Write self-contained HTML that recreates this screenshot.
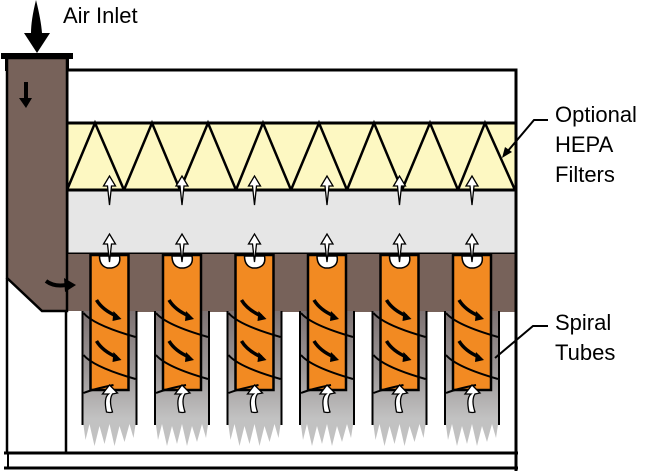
<!DOCTYPE html>
<html><head><meta charset="utf-8"><style>
html,body{margin:0;padding:0;background:#fff;width:650px;height:471px;overflow:hidden}
text{font-family:"Liberation Sans",sans-serif;font-size:22px;fill:#000}
</style></head><body>
<svg width="650" height="471" viewBox="0 0 650 471" xmlns="http://www.w3.org/2000/svg">
<defs>
<linearGradient id="g" x1="0" y1="0" x2="0" y2="1">
<stop offset="0" stop-color="#7d7272"/><stop offset="0.55" stop-color="#9c9797"/><stop offset="1" stop-color="#c2c2c2"/>
</linearGradient>
<g id="unit">
<!-- channel -->
<rect x="-27" y="311" width="54" height="108" fill="url(#g)"/>
<path d="M-27 418 L-24 440 L-20 424 L-15 446 L-10 426 L-5 444 L0 424 L5 446 L10 426 L15 442 L20 424 L24 438 L27 418 Z" fill="#c2c2c2"/>
<line x1="-27" y1="311" x2="-27" y2="425" stroke="#000" stroke-width="2"/>
<line x1="27" y1="311" x2="27" y2="425" stroke="#000" stroke-width="2"/>
<!-- tube -->
<rect x="-19" y="255" width="38" height="135" fill="#f28a22" stroke="#000" stroke-width="2.5"/>
<path d="M-10 256 q0 10 8 12 l4 0 q10 -2 8 -12z" fill="#fff" stroke="#000" stroke-width="1.5"/>
<!-- spirals -->
<path d="M-26 313 q10 12 52 24" fill="none" stroke="#000" stroke-width="2"/>
<path d="M-26 355 q10 12 52 24" fill="none" stroke="#000" stroke-width="2"/>
<path d="M-26 393 q10 -4 30 -8" fill="none" stroke="#000" stroke-width="2"/>
<!-- inner arrows -->
<path d="M-13 300 q6 10 20 16" fill="none" stroke="#000" stroke-width="3.5"/>
<path d="M4 311 l8 8 l-9 2z" fill="#000"/>
<path d="M-13 341 q6 10 20 16" fill="none" stroke="#000" stroke-width="3.5"/>
<path d="M4 352 l8 8 l-9 2z" fill="#000"/>
<!-- bottom curly arrow -->
<path d="M-3 412 q-3 -14 2 -18 l-6 0 l7 -9 l8 8 l-5 1 q-4 6 0 18 q-2 1 -6 0z" fill="#fff" stroke="#000" stroke-width="1.3"/>
<!-- plenum arrows -->
<path d="M0 262 l-2 -18 h-4 l6 -10 l6 10 h-4z" fill="#fff" stroke="#000" stroke-width="1.3"/>
<path d="M0 205 l-2 -19 h-4 l6 -10 l6 10 h-4z" fill="#fff" stroke="#000" stroke-width="1.3"/>
</g>
</defs>
<!-- top box -->
<rect x="67" y="70" width="449" height="53" fill="#fff" stroke="#000" stroke-width="3"/>
<!-- hepa -->
<rect x="67" y="123" width="449" height="67" fill="#fdf8c2" stroke="#000" stroke-width="3"/>
<path d="M67 190 L95 123 L124 190 L152 123 L180 190 L208 123 L236 190 L263 123 L291 190 L319 123 L347 190 L374 123 L402 190 L430 123 L458 190 L485 123 L515 190" fill="none" stroke="#000" stroke-width="2.5"/>
<!-- plenum -->
<rect x="67" y="190" width="449" height="64" fill="#e6e6e6" stroke="#000" stroke-width="3"/>
<!-- lower region -->
<rect x="66" y="254" width="450" height="58" fill="#77625a"/>
<rect x="66" y="311" width="16" height="142" fill="#fff"/>
<g>
<use href="#unit" transform="translate(109.5,0)"/>
<use href="#unit" transform="translate(182,0)"/>
<use href="#unit" transform="translate(254.5,0)"/>
<use href="#unit" transform="translate(327,0)"/>
<use href="#unit" transform="translate(399.5,0)"/>
<use href="#unit" transform="translate(472,0)"/>
</g>
<line x1="516" y1="70" x2="516" y2="471" stroke="#000" stroke-width="3"/>
<!-- brown column -->
<path d="M7 58 H67 V311 H42 L7 278 Z" fill="#77625a" stroke="#000" stroke-width="2.5"/>
<rect x="1" y="53" width="72" height="6" fill="#000"/>
<rect x="5" y="58" width="3" height="13" fill="#000"/>
<rect x="66" y="58" width="3" height="13" fill="#000"/>
<line x1="7" y1="278" x2="7" y2="453" stroke="#000" stroke-width="2.5"/>
<line x1="66" y1="311" x2="66" y2="453" stroke="#000" stroke-width="2.5"/>
<!-- bottom -->
<line x1="4" y1="453" x2="518" y2="453" stroke="#000" stroke-width="3"/>
<line x1="4" y1="468" x2="518" y2="468" stroke="#000" stroke-width="3"/>
<line x1="8" y1="453" x2="8" y2="468" stroke="#000" stroke-width="2"/>
<!-- inlet arrow -->
<path d="M36 0 Q31 20 31 33 H24 L37 53 L50 33 H42 Q41 20 36 0Z" fill="#000"/>
<path d="M24 82 H28 V98 H32 L26 108 L19 98 H24Z" fill="#000"/>
<path d="M46 281 q8 6 20 4" fill="none" stroke="#000" stroke-width="4"/>
<path d="M64 278 l12 7 l-11 7z" fill="#000"/>
<!-- labels -->
<text x="63" y="23">Air Inlet</text>
<text x="555" y="122">Optional</text>
<text x="555" y="152">HEPA</text>
<text x="555" y="182">Filters</text>
<text x="555" y="330">Spiral</text>
<text x="555" y="360">Tubes</text>
<path d="M548 120 H534 L507 152" fill="none" stroke="#000" stroke-width="2"/>
<path d="M502 158 l3 -11 l7 5z" fill="#000"/>
<path d="M548 326 H533 L495 358" fill="none" stroke="#000" stroke-width="2"/>
</svg>
</body></html>
